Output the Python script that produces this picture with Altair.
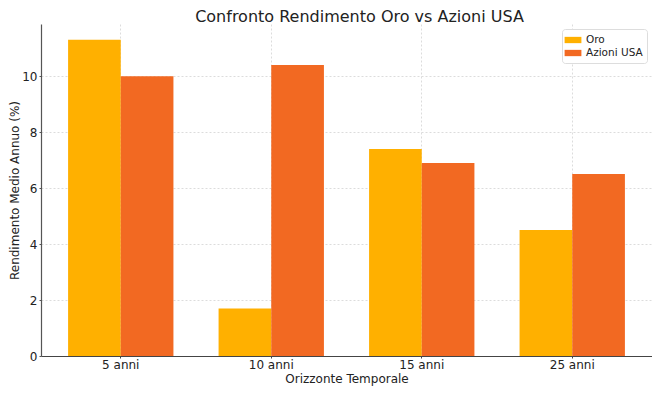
import altair as alt
import pandas as pd

categories = ["5 anni", "10 anni", "15 anni", "25 anni"]
oro = [11.3, 1.7, 7.4, 4.5]
azioni = [10.0, 10.4, 6.9, 6.5]
series = ["Oro", "Azioni USA"]
colors = ["#FFB000", "#F26922"]

rows = []
for i, c in enumerate(categories):
    rows.append({"Orizzonte": c, "Serie": "Oro", "Valore": oro[i]})
    rows.append({"Orizzonte": c, "Serie": "Azioni USA", "Valore": azioni[i]})
df = pd.DataFrame(rows)

font = "DejaVu Sans"

chart = alt.Chart(df).mark_bar().encode(
    x=alt.X("Orizzonte:N", sort=categories,
            scale=alt.Scale(paddingInner=0.3, paddingOuter=0.18),
            axis=alt.Axis(title="Orizzonte Temporale", labelAngle=0, bandPosition=0.5,
                          grid=True, gridColor="#dcdcdc", gridDash=[2, 2],
                          domainColor="#444", domainWidth=1.2, tickColor="#444", tickSize=2,
                          labelFontSize=12, titleFontSize=12, labelColor="#222",
                          titleColor="#222", labelFont=font, titleFont=font,
                          titleFontWeight="normal", labelPadding=1, titlePadding=3)),
    xOffset=alt.XOffset("Serie:N", sort=series),
    y=alt.Y("Valore:Q", scale=alt.Scale(domain=[0, 11.865], nice=False),
            axis=alt.Axis(title="Rendimento Medio Annuo (%)", values=[0, 2, 4, 6, 8, 10],
                          grid=True, gridColor="#dcdcdc", gridDash=[2, 2],
                          domainColor="#555", domainWidth=1.2, tickColor="#555", tickSize=2,
                          labelFontSize=12, titleFontSize=12, labelColor="#222",
                          titleColor="#222", labelFont=font, titleFont=font,
                          titleFontWeight="normal", labelPadding=2, titlePadding=0)),
    color=alt.Color("Serie:N", sort=series,
                    scale=alt.Scale(domain=series, range=colors),
                    legend=alt.Legend(title=None, orient="top-right", offset=5,
                                      symbolType="M-1.2,-0.45L1.2,-0.45L1.2,0.45L-1.2,0.45Z",
                                      symbolSize=196, symbolStrokeWidth=0,
                                      labelFontSize=10.5, labelFont=font, labelColor="#222",
                                      labelOffset=6,
                                      fillColor="white", strokeColor="#dddddd",
                                      cornerRadius=3, padding=4, rowPadding=0)),
).properties(
    width=611, height=332,
    title=alt.TitleParams("Confronto Rendimento Oro vs Azioni USA", fontSize=16,
                          font=font, fontWeight="normal", color="#222", offset=-1, dx=13),
    autosize=alt.AutoSizeParams(type="none"),
    padding={"left": 33, "top": 16, "right": 0, "bottom": 30},
).configure_view(stroke=None)

chart.save("out.html", embed_options={"renderer": "svg", "actions": False})
